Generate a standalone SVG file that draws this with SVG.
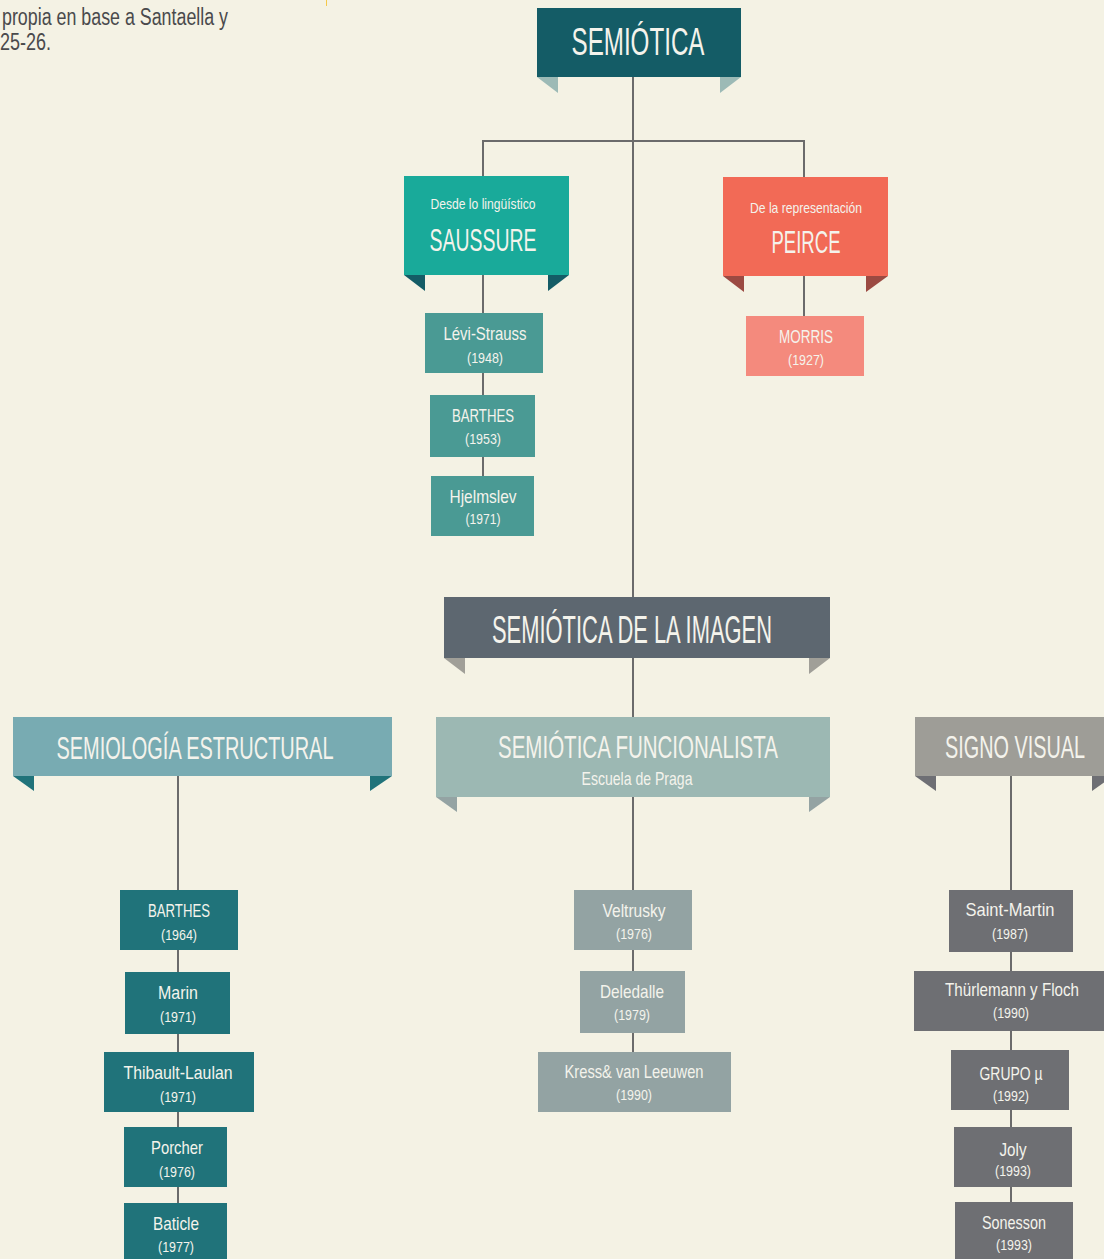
<svg xmlns="http://www.w3.org/2000/svg" width="1104" height="1259" viewBox="0 0 1104 1259">
  <style>
    text { font-family: "Liberation Sans Narrow", "Liberation Sans", "DejaVu Sans Condensed", sans-serif; fill: #f4f3ec; text-anchor: middle; }
    .note { fill: #4a4a4c; text-anchor: start; font-size: 23px; }
    .name { font-size: 19px; }
    .year { font-size: 15px; }
    .big { font-size: 39px; }
    .mid { font-size: 31px; }
    .sub { font-size: 15px; }
    .wire { stroke: #6b6b6b; stroke-width: 2; fill: none; }
  </style>

  <rect width="1104" height="1259" fill="#f4f2e4"/>

  <!-- caption fragment -->
  <g id="caption">
    <text class="note" x="2" y="25" textLength="226" lengthAdjust="spacingAndGlyphs">propia en base a Santaella y</text>
    <text class="note" x="0" y="50" textLength="51" lengthAdjust="spacingAndGlyphs">25-26.</text>
    <line x1="326.5" y1="0" x2="326.5" y2="6" stroke="#f5c94a" stroke-width="1"/>
  </g>

  <!-- connectors -->
  <g id="connectors" class="wire">
    <line x1="633" y1="77" x2="633" y2="597"/>
    <polyline points="483,176 483,141 804,141 804,177"/>
    <line x1="483" y1="275" x2="483" y2="476"/>
    <line x1="804" y1="276" x2="804" y2="316"/>
    <line x1="633" y1="658" x2="633" y2="717"/>
    <line x1="178" y1="776" x2="178" y2="1259"/>
    <line x1="633" y1="797" x2="633" y2="1052"/>
    <line x1="1011" y1="776" x2="1011" y2="1259"/>
  </g>

  <!-- top banner -->
  <g id="semiotica">
    <polygon points="537,77 558,77 558,93" fill="#9cbab6"/>
    <polygon points="720,93 720,77 741,77" fill="#9cbab6"/>
    <rect x="537" y="8" width="204" height="69" fill="#145c66"/>
    <text class="big" x="638" y="55" textLength="133" lengthAdjust="spacingAndGlyphs">SEMIÓTICA</text>
  </g>

  <g id="saussure">
    <polygon points="404,275 425,275 425,291" fill="#145c66"/>
    <polygon points="548,291 548,275 569,275" fill="#145c66"/>
    <rect x="404" y="176" width="165" height="99" fill="#19aa9a"/>
    <text class="sub" x="483" y="209" textLength="105" lengthAdjust="spacingAndGlyphs">Desde lo lingüístico</text>
    <text class="mid" x="483" y="251" textLength="107" lengthAdjust="spacingAndGlyphs">SAUSSURE</text>
  </g>

  <g id="peirce">
    <polygon points="723,276 744,276 744,292" fill="#9b4a42"/>
    <polygon points="866,292 866,276 888,276" fill="#9b4a42"/>
    <rect x="723" y="177" width="165" height="99" fill="#f26a56"/>
    <text class="sub" x="806" y="213" textLength="112" lengthAdjust="spacingAndGlyphs">De la representación</text>
    <text class="mid" x="806" y="253" textLength="69" lengthAdjust="spacingAndGlyphs">PEIRCE</text>
  </g>

  <g id="morris">
    <rect x="746" y="316" width="118" height="60" fill="#f48a7d"/>
    <text class="name" x="806" y="343" textLength="54" lengthAdjust="spacingAndGlyphs">MORRIS</text>
    <text class="year" x="806" y="365" textLength="36" lengthAdjust="spacingAndGlyphs">(1927)</text>
  </g>

  <g id="levi-strauss">
    <rect x="425" y="313" width="118" height="60" fill="#4a9a94"/>
    <text class="name" x="485" y="340" textLength="83" lengthAdjust="spacingAndGlyphs">Lévi-Strauss</text>
    <text class="year" x="485" y="363" textLength="36" lengthAdjust="spacingAndGlyphs">(1948)</text>
  </g>

  <g id="barthes-1953">
    <rect x="430" y="395" width="105" height="62" fill="#4a9a94"/>
    <text class="name" x="483" y="422" textLength="62" lengthAdjust="spacingAndGlyphs">BARTHES</text>
    <text class="year" x="483" y="444" textLength="36" lengthAdjust="spacingAndGlyphs">(1953)</text>
  </g>

  <g id="hjelmslev">
    <rect x="431" y="476" width="103" height="60" fill="#4a9a94"/>
    <text class="name" x="483" y="503" textLength="67" lengthAdjust="spacingAndGlyphs">Hjelmslev</text>
    <text class="year" x="483" y="524" textLength="35" lengthAdjust="spacingAndGlyphs">(1971)</text>
  </g>

  <!-- image semiotics -->
  <g id="semiotica-imagen">
    <polygon points="444,658 465,658 465,674" fill="#a09f98"/>
    <polygon points="809,674 809,658 830,658" fill="#a09f98"/>
    <rect x="444" y="597" width="386" height="61" fill="#5d6770"/>
    <text class="big" x="632" y="643" textLength="280" lengthAdjust="spacingAndGlyphs">SEMIÓTICA DE LA IMAGEN</text>
  </g>

  <g id="semiologia-estructural">
    <polygon points="13,776 34,776 34,791" fill="#20737a"/>
    <polygon points="370,791 370,776 392,776" fill="#20737a"/>
    <rect x="13" y="717" width="379" height="59" fill="#78abb2"/>
    <text class="mid" x="195" y="759" textLength="277" lengthAdjust="spacingAndGlyphs">SEMIOLOGÍA ESTRUCTURAL</text>
  </g>

  <g id="semiotica-funcionalista">
    <polygon points="436,797 457,797 457,812" fill="#94a3a3"/>
    <polygon points="809,812 809,797 830,797" fill="#94a3a3"/>
    <rect x="436" y="717" width="394" height="80" fill="#9cb8b3"/>
    <text class="mid" x="638" y="758" textLength="280" lengthAdjust="spacingAndGlyphs">SEMIÓTICA FUNCIONALISTA</text>
    <text class="name" x="637" y="785" textLength="111" lengthAdjust="spacingAndGlyphs">Escuela de Praga</text>
  </g>

  <g id="signo-visual">
    <polygon points="915,776 936,776 936,791" fill="#6e6f74"/>
    <polygon points="1092,791 1092,776 1104,776 1104,782.5" fill="#6e6f74"/>
    <rect x="915" y="717" width="189" height="59" fill="#9e9d97"/>
    <text class="mid" x="1015" y="758" textLength="140" lengthAdjust="spacingAndGlyphs">SIGNO VISUAL</text>
  </g>

  <!-- structural column -->
  <g id="barthes-1964">
    <rect x="120" y="890" width="118" height="60" fill="#20737a"/>
    <text class="name" x="179" y="917" textLength="62" lengthAdjust="spacingAndGlyphs">BARTHES</text>
    <text class="year" x="179" y="940" textLength="36" lengthAdjust="spacingAndGlyphs">(1964)</text>
  </g>
  <g id="marin">
    <rect x="125" y="972" width="105" height="62" fill="#20737a"/>
    <text class="name" x="178" y="999" textLength="40" lengthAdjust="spacingAndGlyphs">Marin</text>
    <text class="year" x="178" y="1022" textLength="36" lengthAdjust="spacingAndGlyphs">(1971)</text>
  </g>
  <g id="thibault-laulan">
    <rect x="104" y="1052" width="150" height="60" fill="#20737a"/>
    <text class="name" x="178" y="1079" textLength="109" lengthAdjust="spacingAndGlyphs">Thibault-Laulan</text>
    <text class="year" x="178" y="1102" textLength="36" lengthAdjust="spacingAndGlyphs">(1971)</text>
  </g>
  <g id="porcher">
    <rect x="124" y="1127" width="103" height="60" fill="#20737a"/>
    <text class="name" x="177" y="1154" textLength="52" lengthAdjust="spacingAndGlyphs">Porcher</text>
    <text class="year" x="177" y="1177" textLength="36" lengthAdjust="spacingAndGlyphs">(1976)</text>
  </g>
  <g id="baticle">
    <rect x="124" y="1203" width="103" height="56" fill="#20737a"/>
    <text class="name" x="176" y="1230" textLength="46" lengthAdjust="spacingAndGlyphs">Baticle</text>
    <text class="year" x="176" y="1252" textLength="36" lengthAdjust="spacingAndGlyphs">(1977)</text>
  </g>

  <!-- functionalist column -->
  <g id="veltrusky">
    <rect x="574" y="890" width="118" height="60" fill="#93a3a3"/>
    <text class="name" x="634" y="917" textLength="63" lengthAdjust="spacingAndGlyphs">Veltrusky</text>
    <text class="year" x="634" y="939" textLength="36" lengthAdjust="spacingAndGlyphs">(1976)</text>
  </g>
  <g id="deledalle">
    <rect x="580" y="971" width="105" height="62" fill="#93a3a3"/>
    <text class="name" x="632" y="998" textLength="64" lengthAdjust="spacingAndGlyphs">Deledalle</text>
    <text class="year" x="632" y="1020" textLength="36" lengthAdjust="spacingAndGlyphs">(1979)</text>
  </g>
  <g id="kress-van-leeuwen">
    <rect x="538" y="1052" width="193" height="60" fill="#93a3a3"/>
    <text class="name" x="634" y="1078" textLength="139" lengthAdjust="spacingAndGlyphs">Kress&amp; van Leeuwen</text>
    <text class="year" x="634" y="1100" textLength="36" lengthAdjust="spacingAndGlyphs">(1990)</text>
  </g>

  <!-- visual sign column -->
  <g id="saint-martin">
    <rect x="949" y="890" width="124" height="62" fill="#6e6f73"/>
    <text class="name" x="1010" y="916" textLength="89" lengthAdjust="spacingAndGlyphs">Saint-Martin</text>
    <text class="year" x="1010" y="939" textLength="36" lengthAdjust="spacingAndGlyphs">(1987)</text>
  </g>
  <g id="thurlemann-floch">
    <rect x="914" y="971" width="190" height="60" fill="#6e6f73"/>
    <text class="name" x="1012" y="996" textLength="134" lengthAdjust="spacingAndGlyphs">Thürlemann y Floch</text>
    <text class="year" x="1011" y="1018" textLength="36" lengthAdjust="spacingAndGlyphs">(1990)</text>
  </g>
  <g id="grupo-mu">
    <rect x="951" y="1050" width="118" height="60" fill="#6e6f73"/>
    <text class="name" x="1011" y="1080" textLength="63" lengthAdjust="spacingAndGlyphs">GRUPO µ</text>
    <text class="year" x="1011" y="1101" textLength="36" lengthAdjust="spacingAndGlyphs">(1992)</text>
  </g>
  <g id="joly">
    <rect x="954" y="1127" width="118" height="60" fill="#6e6f73"/>
    <text class="name" x="1013" y="1156" textLength="27" lengthAdjust="spacingAndGlyphs">Joly</text>
    <text class="year" x="1013" y="1176" textLength="36" lengthAdjust="spacingAndGlyphs">(1993)</text>
  </g>
  <g id="sonesson">
    <rect x="955" y="1202" width="118" height="57" fill="#6e6f73"/>
    <text class="name" x="1014" y="1229" textLength="64" lengthAdjust="spacingAndGlyphs">Sonesson</text>
    <text class="year" x="1014" y="1250" textLength="36" lengthAdjust="spacingAndGlyphs">(1993)</text>
  </g>
</svg>
